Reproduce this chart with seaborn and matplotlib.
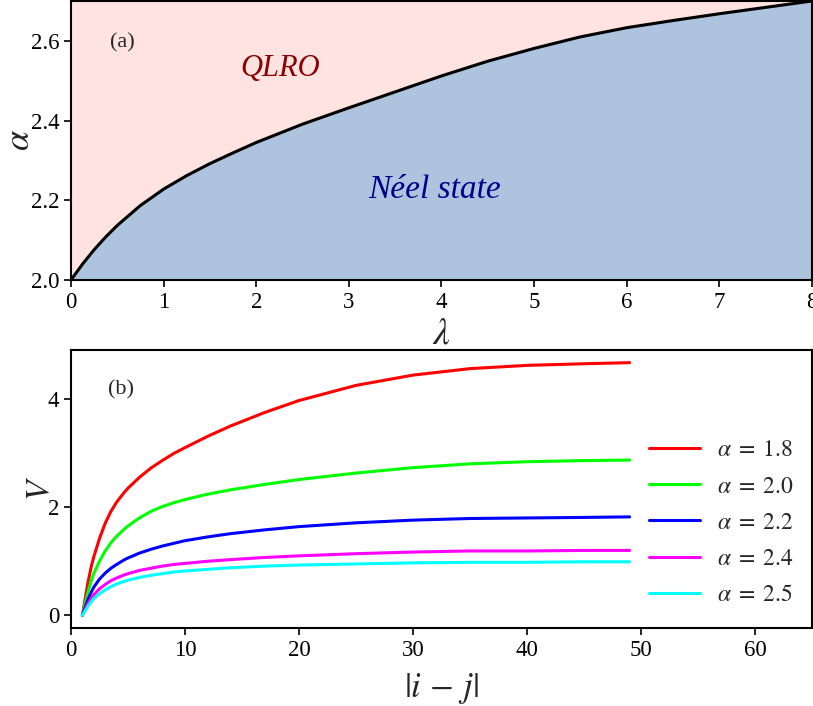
import numpy as np
import pandas as pd
import matplotlib
matplotlib.use("Agg")
import matplotlib.pyplot as plt
import seaborn as sns

# ---- (a) phase boundary alpha_c(lambda) ----
lam = [0, 0.125, 0.25, 0.375, 0.5, 0.75, 1.0, 1.25, 1.5, 1.75, 2.0, 2.5, 3.0,
       3.5, 4.0, 4.5, 5.0, 5.5, 6.0, 6.5, 7.0, 7.5, 8.0]
alpha_c = [2.000, 2.040, 2.076, 2.108, 2.137, 2.187, 2.228, 2.262, 2.292, 2.319,
           2.345, 2.391, 2.432, 2.472, 2.512, 2.549, 2.581, 2.610, 2.633, 2.651,
           2.668, 2.684, 2.700]

# ---- (b) V(|i-j|) for several alpha ----
dist = [1, 1.5, 1.8, 2, 2.5, 3, 3.5, 4, 4.7, 5, 6, 7, 8, 9, 10, 12, 14, 17, 20,
        25, 30, 35, 40, 45, 49]
V_18 = [0, 0.62, 0.92, 1.08, 1.42, 1.70, 1.92, 2.09, 2.28, 2.35, 2.55, 2.72, 2.86,
        2.99, 3.10, 3.31, 3.50, 3.75, 3.97, 4.25, 4.44, 4.56, 4.62, 4.65, 4.67]
V_20 = [0, 0.44, 0.65, 0.77, 1.00, 1.19, 1.34, 1.46, 1.60, 1.65, 1.80, 1.92, 2.01,
        2.08, 2.14, 2.24, 2.32, 2.42, 2.51, 2.63, 2.73, 2.80, 2.84, 2.86, 2.87]
V_22 = [0, 0.30, 0.44, 0.52, 0.67, 0.78, 0.87, 0.94, 1.03, 1.06, 1.15, 1.22, 1.28,
        1.33, 1.38, 1.45, 1.51, 1.58, 1.64, 1.71, 1.76, 1.79, 1.80, 1.81, 1.82]
V_24 = [0, 0.22, 0.32, 0.38, 0.49, 0.57, 0.64, 0.69, 0.75, 0.77, 0.83, 0.87, 0.91,
        0.94, 0.96, 1.00, 1.03, 1.07, 1.10, 1.14, 1.17, 1.19, 1.19, 1.20, 1.20]
V_25 = [0, 0.17, 0.26, 0.31, 0.40, 0.47, 0.53, 0.58, 0.63, 0.65, 0.70, 0.74, 0.77,
        0.80, 0.82, 0.85, 0.88, 0.91, 0.93, 0.95, 0.97, 0.98, 0.98, 0.99, 0.99]
alpha_labels = [r"$\alpha\;=\;1.8$", r"$\alpha\;=\;2.0$", r"$\alpha\;=\;2.2$",
                r"$\alpha\;=\;2.4$", r"$\alpha\;=\;2.5$"]
line_colors = ["#ff0000", "#00ff00", "#0000ff", "#ff00ff", "#00ffff"]

sns.set_theme(style="ticks")
plt.rcParams["font.family"] = ["Liberation Serif", "DejaVu Serif"]
plt.rcParams["mathtext.fontset"] = "stix"
plt.rcParams["axes.linewidth"] = 1.5
plt.rcParams["axes.edgecolor"] = "black"
plt.rcParams["xtick.color"] = "black"
plt.rcParams["ytick.color"] = "black"

fig = plt.figure(figsize=(8.13, 7.06), dpi=100)
ax1 = fig.add_axes([0.0873, 0.6034, 0.9115, 0.3952])
ax2 = fig.add_axes([0.0873, 0.1105, 0.9115, 0.3937])

# phase diagram
ax1.fill_between(lam, alpha_c, 2.7, color="#ffe3e0", lw=0)
ax1.fill_between(lam, 2.0, alpha_c, color="#aec3dd", lw=0)
sns.lineplot(x=lam, y=alpha_c, ax=ax1, color="black", lw=2.2, sort=False)
ax1.set_xlim(0, 8)
ax1.set_ylim(2.0, 2.7)
ax1.set_xticks(range(0, 9))
ax1.set_yticks([2.0, 2.2, 2.4, 2.6])
ax1.set_xlabel(r"$\lambda$", fontsize=27, labelpad=3)
ax1.set_ylabel(r"$\alpha$", fontsize=26, labelpad=-5)
ax1.text(0.55, 2.595, "(a)", fontsize=16, ha="center", va="center")
ax1.text(2.26, 2.53, "QLRO", fontsize=22, style="italic", color="#8b0000",
         ha="center", va="center")
ax1.text(3.93, 2.227, "Néel state", fontsize=24, style="italic", color="#00008b",
         ha="center", va="center")

# potential curves
df = pd.DataFrame({
    "dist": dist * 5,
    "V": V_18 + V_20 + V_22 + V_24 + V_25,
    "alpha": sum([[lab] * len(dist) for lab in alpha_labels], []),
})
sns.lineplot(data=df, x="dist", y="V", hue="alpha", hue_order=alpha_labels,
             palette=dict(zip(alpha_labels, line_colors)), lw=2.2, ax=ax2)
ax2.set_xlim(0, 65)
ax2.set_xticks(range(0, 61, 10))
ax2.set_yticks([0, 2, 4])
ax2.set_xlabel(r"$|i\,-\,j|$", fontsize=25, labelpad=7)
ax2.set_ylabel(r"$V$", fontsize=24, labelpad=-6)
ax2.text(4.4, 4.17, "(b)", fontsize=16, ha="center", va="center")
handles, labels = ax2.get_legend_handles_labels()
ax2.legend(handles, labels, frameon=False, fontsize=17, loc="center left",
           bbox_to_anchor=(0.752, 0.378), handlelength=2.15, labelspacing=0.62,
           handletextpad=0.72)

for ax in (ax1, ax2):
    ax.tick_params(labelsize=16.5, length=5, width=1.2)
    for s in ax.spines.values():
        s.set_visible(True)
        s.set_color("black")

fig.savefig("out.png", dpi=100)
